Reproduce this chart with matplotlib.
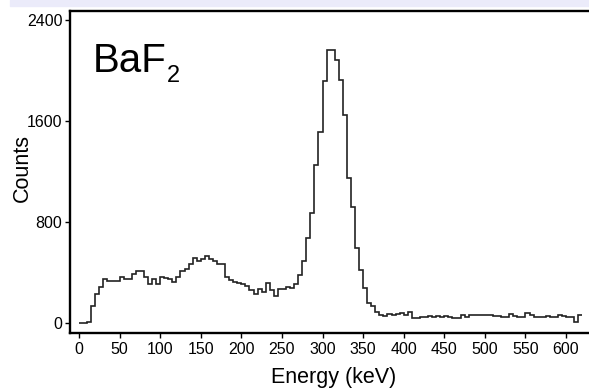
import numpy as np
import matplotlib.pyplot as plt
from matplotlib.patches import Rectangle

plt.rcParams['font.family'] = ['Liberation Sans', 'DejaVu Sans']

# BaF2 pulse-height spectrum, 5 keV bins from 0 to 620 keV
bin_width = 5
counts = [
    3, 3, 8, 137, 227, 283, 346, 330, 335, 335,
    362, 352, 346, 388, 409, 409, 362, 306, 352, 309,
    367, 359, 352, 322, 367, 408, 425, 465, 512, 494,
    510, 528, 510, 494, 467, 467, 365, 340, 322, 320,
    305, 290, 260, 232, 270, 245, 318, 262, 210, 268,
    270, 283, 275, 309, 380, 494, 671, 875, 1251, 1515,
    1917, 2162, 2162, 2083, 1925, 1650, 1146, 915, 592, 420,
    275, 162, 132, 90, 63, 55, 71, 63, 71, 82,
    63, 90, 37, 40, 50, 48, 52, 50, 55, 50,
    58, 50, 38, 40, 66, 50, 66, 63, 66, 66,
    66, 60, 55, 55, 45, 50, 69, 55, 50, 48,
    82, 60, 50, 50, 45, 55, 50, 45, 60, 55,
    50, 45, 10, 63,
]
edges = np.arange(len(counts) + 1) * bin_width

x_ticks = list(range(0, 601, 50))
y_ticks = [0, 800, 1600, 2400]

fig = plt.figure(figsize=(5.89, 3.88), dpi=100)

# light band along the top edge
fig.patches.append(Rectangle((10 / 589, 1 - 6 / 388), 1, 6 / 388,
                             transform=fig.transFigure, color='#ebebfa',
                             zorder=0))

ax = fig.add_axes([70 / 589, 1 - 333.3 / 388, 1 - 70 / 589, (333.3 - 10.5) / 388])
ax.stairs(counts, edges, baseline=None, color='#222222', linewidth=1.2)

ax.set_xlim(-11.1, 628.3)
ax.set_ylim(-81.6, 2475)
ax.set_xticks(x_ticks)
ax.set_yticks(y_ticks)

for side in ['left', 'bottom', 'top']:
    ax.spines[side].set_linewidth(1.7)
ax.spines['right'].set_visible(False)

ax.tick_params(direction='out', length=3.5, width=1, labelsize=11.5, pad=2)
ax.tick_params(axis='x', pad=3)

fig.text(334 / 589, 1 - 383 / 388, 'Energy (keV)', fontsize=15.5,
         ha='center', va='baseline')
fig.text(22 / 589, 1 - 168 / 388, 'Counts', fontsize=15.5, rotation=90,
         ha='center', va='center')

# sample label
fig.text(93 / 589, 1 - 71.7 / 388, 'BaF', fontsize=29, ha='left', va='baseline')
fig.text(167 / 589, 1 - 81.7 / 388, '2', fontsize=17, ha='left', va='baseline')

fig.savefig('out.png', dpi=100)
